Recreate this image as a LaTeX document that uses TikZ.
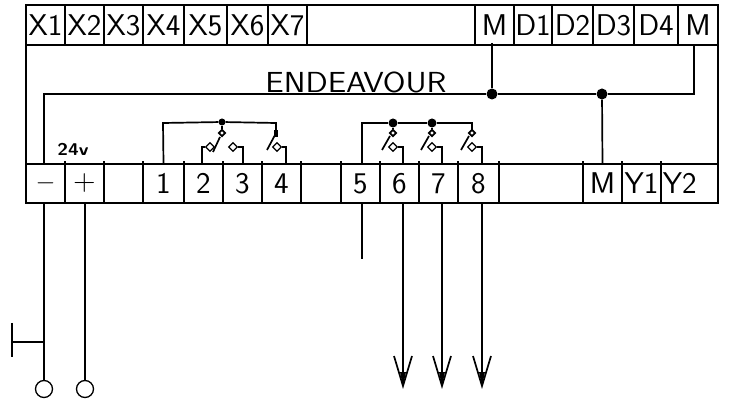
\documentclass[tikz,border=0pt]{standalone}
\usepackage{amsmath}
\usepackage{graphicx}
\usetikzlibrary{shapes.geometric}

\newcommand{\wide}[2]{\scalebox{#1}[1]{#2}}

\tikzset{
    wire/.style={line width=1.7pt},
    cell/.style={draw, line width=1.8pt, rectangle, inner sep=0pt, font={\sffamily\fontsize{30}{30}\selectfont}},
    contact/.style={draw, diamond, line width=1.2pt, inner sep=0pt, minimum size=9pt, fill=white},
    pivot/.style={draw, diamond, line width=1.7pt, inner sep=0pt, minimum size=7pt, fill=white},
    junction/.style={circle, fill=black, inner sep=0pt},
    terminal/.style={draw, circle, line width=1.3pt, inner sep=0pt, minimum size=17pt}
}

\begin{document}
\begin{tikzpicture}[x=1pt, y=-1pt]
    \useasboundingbox (0,0) rectangle (731,403);
    % housing
    \node[draw, line width=1.8pt, rectangle, inner sep=0pt, minimum width=692pt, minimum height=198pt] (housing) at (372,104) {};
    \node[font={\sffamily\fontsize{29}{29}\selectfont}, inner sep=0pt] (title) at (356,82) {\wide{1.13}{ENDEAVOUR}};
    \node[font={\sffamily\bfseries\fontsize{17}{17}\selectfont}, inner sep=0pt] (supply) at (73,149) {\wide{1.15}{24v}};

    % top row
    \foreach \name/\lab/\xa/\xb in {X1/X1/26/65, X2/X2/65/104, X3/X3/104/143, X4/X4/143/184, X5/X5/184/227, X6/X6/227/268, X7/X7/268/307, TM/M/475/514, D1/D1/514/552, D2/D2/552/593, D3/D3/593/634, D4/D4/634/678, TN/M/678/718}
        \node[cell, minimum width=(\xb-\xa)*1pt, minimum height=40pt] (\name) at ({(\xa+\xb)/2},25) {\wide{1.03}{\lab}};
    \draw[line width=1.8pt] (307,5) -- (307,45) -- (475,45);

    % bottom row
    \foreach \name/\lab/\xa/\xb in {BN/$-$/26/65, BP/+/65/104, B0//104/143, B1/1/143/184, B2/2/184/223, B3/3/223/262, B4/4/262/301, B00//301/341, B5/5/341/380, B6/6/380/419, B7/7/419/458, B8/8/458/499, BM/M/583/622, Y1/Y1/622/661, Y2/Y2\hspace{19pt}/661/718}
        \node[cell, minimum width=(\xb-\xa)*1pt, minimum height=39pt] (\name) at ({(\xa+\xb)/2},183.5) {\wide{1.03}{\lab}};
    \foreach \x in {65,104,143,184,223,262,301,341,380,419,458,499,583,622,661}
        \draw[line width=1.8pt] (\x,164) -- (\x,161.5);
    \draw[line width=1.8pt] (499,164) -- (583,164);
    \draw[line width=1.8pt] (499,203) -- (583,203);

    % common rail
    \node[junction, minimum size=11pt] (railA) at (492,94) {};
    \node[junction, minimum size=11pt] (railB) at (602,94) {};
    \coordinate (railL) at (44,94);
    \coordinate (railR) at (694,94);
    \draw[wire] (44,164) -- (railL) -- (railA) -- (railB) -- (railR) -- (694,45);
    \draw[wire] (492,43) -- (railA);
    \draw[wire] (railB) -- (BM.north);

    % relay contacts 1 to 4
    \node[junction, minimum size=7pt] (feedA) at (222,122) {};
    \coordinate (feedL) at (163,123);
    \coordinate (feedR) at (276,123);
    \draw[wire] (B1.north) -- (feedL) -- (feedA) -- (feedR) -- (276,130);
    \node[pivot] (pivA) at (222,133) {};
    \node[contact] (conA) at (210,147) {};
    \node[contact] (conB) at (233,147) {};
    \draw[wire] (feedA) -- (pivA);
    \draw[wire] (213,152) -- (220,137);
    \draw[wire] (conA) -- (202,147) -- (202,164);
    \draw[wire] (conB) -- (243,147) -- (243,164);
    \node[contact] (conC) at (277,147) {};
    \draw[line width=3.5pt] (276,130) -- (276,137);
    \draw[wire] (267,150) -- (275,135);
    \draw[wire] (conC) -- (286,147) -- (286,164);

    % relay contacts 5 to 8
    \coordinate (feedM) at (362,123);
    \node[junction, minimum size=9pt] (feedB) at (393,123) {};
    \node[junction, minimum size=9pt] (feedC) at (432,123) {};
    \coordinate (feedD) at (472,123);
    \draw[wire] (362,164) -- (feedM) -- (feedB) -- (feedC) -- (feedD) -- (472,130);
    \foreach \k/\x/\feed in {6/393/feedB, 7/432/feedC, 8/472/feedD}
    {
        \node[pivot] (piv\k) at (\x,133) {};
        \node[contact] (con\k) at (\x,147) {};
        \draw[wire] (\feed) -- (piv\k);
        \draw[wire] (\x-11,150) -- (\x-3,136);
        \draw[wire] (con\k) -- (\x+10,147) -- (\x+10,164);
    }

    % outputs
    \node[terminal] (termN) at (44,389) {};
    \node[terminal] (termP) at (85,389) {};
    \coordinate (tap) at (44,342);
    \coordinate (stub) at (12,342);
    \draw[wire] (44,203) -- (tap) -- (termN);
    \draw[wire] (85,203) -- (termP);
    \draw[wire] (tap) -- (stub);
    \draw[wire] (12,323) -- (stub) -- (12,357);
    \draw[wire] (362,203) -- (362,259);
    \foreach \k/\x in {6/403, 7/442, 8/482}
    {
        \coordinate (tip\k) at (\x,386);
        \draw[wire] (\x,203) -- (tip\k);
        \draw[wire] (\x-9,356) -- (tip\k) -- (\x+9,356);
        \fill (\x-3,372) -- (tip\k) -- (\x+3,372) -- cycle;
    }
\end{tikzpicture}
\end{document}
